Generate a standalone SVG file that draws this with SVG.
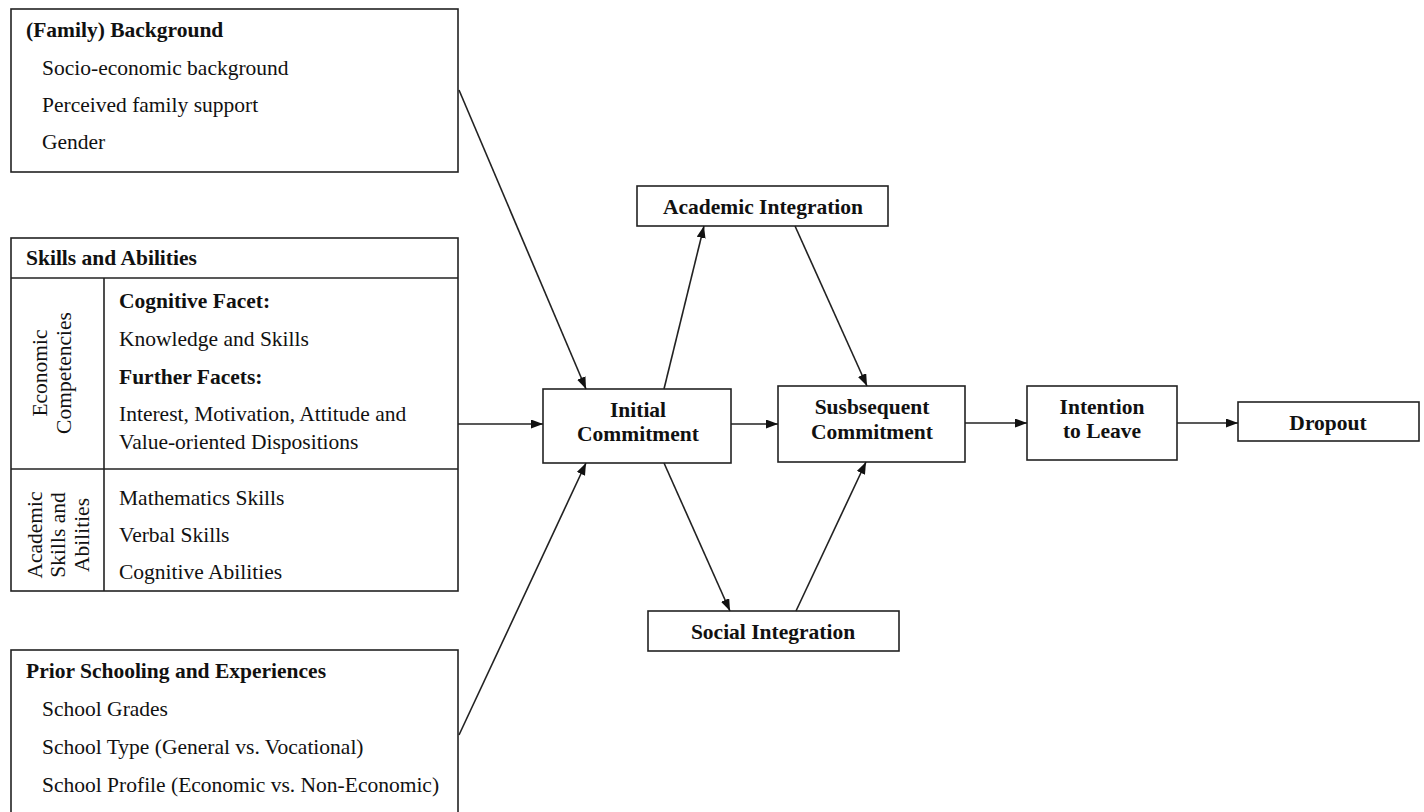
<svg xmlns="http://www.w3.org/2000/svg" width="1424" height="812" viewBox="0 0 1424 812">
<style>
  .box { fill: #fff; stroke: #222; stroke-width: 1.6; }
  .ln { stroke: #222; stroke-width: 1.6; fill: none; }
  .t { font-family: "Liberation Serif", "Times New Roman", serif; font-size: 21.5px; fill: #111; }
  .b { font-weight: bold; }
  .c { text-anchor: middle; }
  .edge { stroke: #222; stroke-width: 1.6; fill: none; marker-end: url(#ah); }
</style>
<defs>
  <marker id="ah" markerUnits="userSpaceOnUse" markerWidth="13" markerHeight="10" refX="12" refY="4.5" orient="auto">
    <path d="M0,0 L12,4.5 L0,9 z" fill="#111"/>
  </marker>
</defs>
<rect width="1424" height="812" fill="#fff"/>

<g id="family">
  <rect class="box" x="11" y="9" width="447" height="163"/>
  <text class="t b" x="26" y="37">(Family) Background</text>
  <text class="t" x="42" y="75">Socio-economic background</text>
  <text class="t" x="42" y="112">Perceived family support</text>
  <text class="t" x="42" y="149">Gender</text>
</g>

<g id="skills">
  <rect class="box" x="11" y="238" width="447" height="353"/>
  <line class="ln" x1="11" y1="278" x2="458" y2="278"/>
  <line class="ln" x1="11" y1="469" x2="458" y2="469"/>
  <line class="ln" x1="104" y1="278" x2="104" y2="591"/>
  <text class="t b" x="26" y="265">Skills and Abilities</text>
  <text class="t c" transform="translate(47,373) rotate(-90)">Economic</text>
  <text class="t c" transform="translate(71,373) rotate(-90)">Competencies</text>
  <text class="t b" x="119" y="308">Cognitive Facet:</text>
  <text class="t" x="119" y="346">Knowledge and Skills</text>
  <text class="t b" x="119" y="384">Further Facets:</text>
  <text class="t" x="119" y="421">Interest, Motivation, Attitude and</text>
  <text class="t" x="119" y="449">Value-oriented Dispositions</text>
  <text class="t c" transform="translate(42,535) rotate(-90)">Academic</text>
  <text class="t c" transform="translate(65,535) rotate(-90)">Skills and</text>
  <text class="t c" transform="translate(89,535) rotate(-90)">Abilities</text>
  <text class="t" x="119" y="505">Mathematics Skills</text>
  <text class="t" x="119" y="542">Verbal Skills</text>
  <text class="t" x="119" y="579">Cognitive Abilities</text>
</g>

<g id="prior">
  <rect class="box" x="11" y="650" width="447" height="180"/>
  <text class="t b" x="26" y="678">Prior Schooling and Experiences</text>
  <text class="t" x="42" y="716">School Grades</text>
  <text class="t" x="42" y="754">School Type (General vs. Vocational)</text>
  <text class="t" x="42" y="792">School Profile (Economic vs. Non-Economic)</text>
</g>

<g id="initial">
  <rect class="box" x="543" y="389" width="188" height="74"/>
  <text class="t b c" x="638" y="417">Initial</text>
  <text class="t b c" x="638" y="441">Commitment</text>
</g>

<g id="academic">
  <rect class="box" x="637" y="186" width="251" height="40"/>
  <text class="t b c" x="763" y="214">Academic Integration</text>
</g>

<g id="social">
  <rect class="box" x="648" y="611" width="251" height="40"/>
  <text class="t b c" x="773" y="639">Social Integration</text>
</g>

<g id="subsequent">
  <rect class="box" x="778" y="386" width="187" height="76"/>
  <text class="t b c" x="872" y="414">Susbsequent</text>
  <text class="t b c" x="872" y="439">Commitment</text>
</g>

<g id="intention">
  <rect class="box" x="1027" y="386" width="150" height="74"/>
  <text class="t b c" x="1102" y="414">Intention</text>
  <text class="t b c" x="1102" y="438">to Leave</text>
</g>

<g id="dropout">
  <rect class="box" x="1238" y="402" width="181" height="39"/>
  <text class="t b c" x="1328" y="430">Dropout</text>
</g>

<g id="connectors">
  <line class="edge" x1="459" y1="90" x2="586" y2="389"/>
  <line class="edge" x1="458" y1="424" x2="543" y2="424"/>
  <line class="edge" x1="459" y1="735" x2="586" y2="463"/>
  <line class="edge" x1="664" y1="389" x2="704" y2="226"/>
  <line class="edge" x1="795" y1="226" x2="867" y2="386"/>
  <line class="edge" x1="664" y1="463" x2="730" y2="611"/>
  <line class="edge" x1="796" y1="611" x2="866" y2="462"/>
  <line class="edge" x1="731" y1="424" x2="778" y2="424"/>
  <line class="edge" x1="965" y1="423" x2="1027" y2="423"/>
  <line class="edge" x1="1177" y1="423" x2="1238" y2="423"/>
</g>
</svg>
